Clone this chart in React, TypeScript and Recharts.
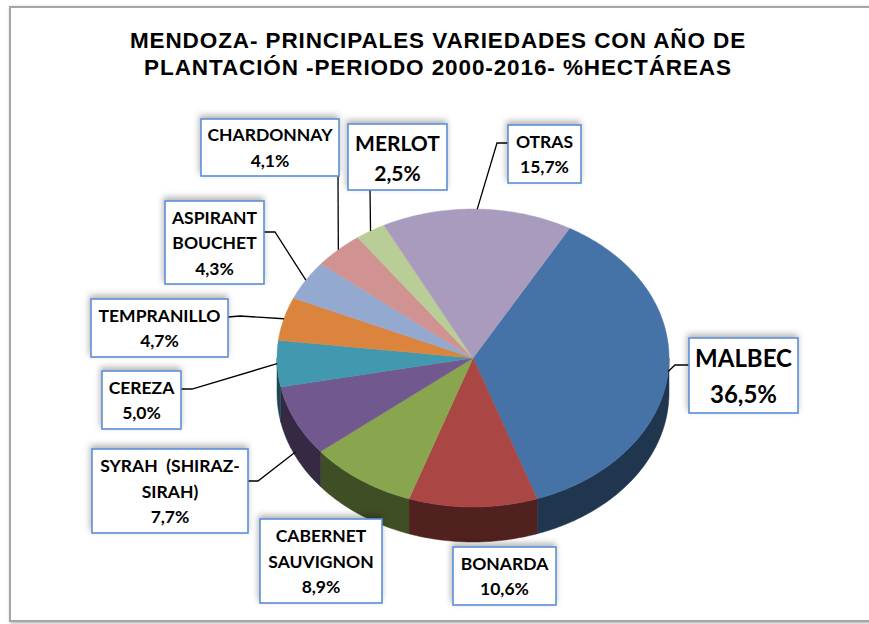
import React from 'react';
import { PieChart, Pie, Cell } from 'recharts';

// ---------- data ----------
const varieties = [
  'MALBEC',
  'BONARDA',
  'CABERNET SAUVIGNON',
  'SYRAH (SHIRAZ-SIRAH)',
  'CEREZA',
  'TEMPRANILLO',
  'ASPIRANT BOUCHET',
  'CHARDONNAY',
  'MERLOT',
  'OTRAS',
];
const shares = [36.5, 10.6, 8.9, 7.7, 5.0, 4.7, 4.3, 4.1, 2.5, 15.7];
const labelTextLines = [
  ['MALBEC'],
  ['BONARDA'],
  ['CABERNET', 'SAUVIGNON'],
  ['SYRAH\u00A0\u00A0(SHIRAZ-', 'SIRAH)'],
  ['CEREZA'],
  ['TEMPRANILLO'],
  ['ASPIRANT', 'BOUCHET'],
  ['CHARDONNAY'],
  ['MERLOT'],
  ['OTRAS'],
];
const titleLines = [
  'MENDOZA- PRINCIPALES VARIEDADES CON AÑO DE',
  'PLANTACIÓN -PERIODO 2000-2016- %HECTÁREAS',
];

// ---------- styles / layout ----------
const colors = ['#4572A7', '#AA4643', '#89A54E', '#71588F', '#4198AF', '#DB843D', '#93A9CF', '#D19392', '#B9CD96', '#A99BBD'];
const K = 0.76; // vertical squash of the tilted pie
const DEPTH = 35;

type Box = { x: number; y: number; w: number; h: number; fs: number; lh: number; path: number[][]; drop: number };
const boxes: Box[] = [
  { x: 689, y: 338, w: 109, h: 75, fs: 24, lh: 36, path: [[675, 365], [689, 365]], drop: 0 },
  { x: 453, y: 547, w: 103, h: 58, fs: 17.5, lh: 25.5, path: [], drop: 0 },
  { x: 260, y: 519, w: 122, h: 84, fs: 17.5, lh: 25.5, path: [], drop: 0 },
  { x: 92, y: 449, w: 156, h: 84, fs: 17.5, lh: 25.5, path: [[258, 481], [248, 481]], drop: 31 },
  { x: 102, y: 371, w: 79, h: 58, fs: 17.5, lh: 25.5, path: [[192, 389], [181, 389]], drop: 0 },
  { x: 91, y: 299, w: 137, h: 58, fs: 17.5, lh: 25.5, path: [[240, 316], [228, 317]], drop: 0 },
  { x: 165, y: 201, w: 99, h: 83, fs: 17.5, lh: 25.5, path: [[275, 232], [264, 232]], drop: 0 },
  { x: 201, y: 119, w: 138, h: 57, fs: 17.5, lh: 25.5, path: [[338, 176]], drop: 0 },
  { x: 348, y: 124, w: 99, h: 66, fs: 21, lh: 30, path: [[370, 190]], drop: 0 },
  { x: 508, y: 125, w: 73, h: 58, fs: 17.5, lh: 25.5, path: [[497, 143], [508, 143]], drop: 0 },
];

const data = varieties.map((name, i) => ({ name, value: shares[i] }));

function darken(hex: string, f: number) {
  const n = parseInt(hex.slice(1), 16);
  const r = Math.round(((n >> 16) & 255) * f);
  const g = Math.round(((n >> 8) & 255) * f);
  const b = Math.round((n & 255) * f);
  return `rgb(${r},${g},${b})`;
}

function pt(cx: number, cy: number, r: number, deg: number, dy = 0): [number, number] {
  const a = (deg * Math.PI) / 180;
  return [cx + r * Math.cos(a), cy - K * r * Math.sin(a) + dy];
}

function arcPoints(cx: number, cy: number, r: number, a1: number, a2: number, dy = 0) {
  const n = Math.max(2, Math.ceil(Math.abs(a2 - a1) / 0.75));
  const pts: [number, number][] = [];
  for (let i = 0; i <= n; i++) pts.push(pt(cx, cy, r, a1 + ((a2 - a1) * i) / n, dy));
  return pts;
}

const SliceShape = (props: any) => {
  const { cx, cy, outerRadius, startAngle, endAngle, fill } = props;
  const lo = Math.min(startAngle, endAngle);
  const hi = Math.max(startAngle, endAngle);
  const sides: React.ReactNode[] = [];
  const lowerHalves = [[-540, -360], [-180, 0], [180, 360]];
  lowerHalves.forEach(([a, b], j) => {
    const s = Math.max(lo, a);
    const e = Math.min(hi, b);
    if (e > s) {
      const top = arcPoints(cx, cy, outerRadius, s, e);
      const bot = arcPoints(cx, cy, outerRadius, e, s, DEPTH);
      const d = 'M' + [...top, ...bot].map((p) => p[0].toFixed(2) + ',' + p[1].toFixed(2)).join('L') + 'Z';
      sides.push(<path key={j} d={d} fill={darken(fill, 0.47)} stroke={darken(fill, 0.47)} strokeWidth={0.5} />);
    }
  });
  const arc = arcPoints(cx, cy, outerRadius, startAngle, endAngle);
  const topD = `M${cx},${cy}L` + arc.map((p) => p[0].toFixed(2) + ',' + p[1].toFixed(2)).join('L') + 'Z';
  return (
    <g>
      {sides}
      <path d={topD} fill={fill} stroke={fill} strokeWidth={0.5} />
    </g>
  );
};

const renderLabel = (props: any) => {
  const { cx, cy, midAngle, outerRadius, index, value } = props;
  const b = boxes[index];
  const lines = [...labelTextLines[index], value.toFixed(1).replace('.', ',') + '%'];
  const [ax, ay] = pt(cx, cy, outerRadius, midAngle, b.drop);
  const centerY = b.y + b.h / 2;
  const first = centerY - ((lines.length - 1) * b.lh) / 2;
  return (
    <g key={`lbl-${index}`}>
      {index === 0 && (
        <defs>
          <filter id="boxShadow" x="-20%" y="-30%" width="140%" height="160%">
            <feDropShadow dx={-1} dy={-3} stdDeviation={3} floodColor="#000" floodOpacity={0.3} />
          </filter>
        </defs>
      )}
      {b.path.length > 0 && (
        <polyline
          points={[[ax, ay], ...b.path].map((p) => p.join(',')).join(' ')}
          fill="none"
          stroke="#000"
          strokeWidth={1.3}
        />
      )}
      <rect x={b.x} y={b.y} width={b.w} height={b.h} fill="#fff" stroke="#5B8ED6" strokeWidth={1.6} filter="url(#boxShadow)" />
      {lines.map((t, i) => (
        <text
          key={i}
          x={b.x + b.w / 2}
          y={first + i * b.lh}
          textAnchor="middle"
          dominantBaseline="central"
          fontFamily="Lato, 'Open Sans', sans-serif"
          fontWeight={700}
          fontSize={b.fs}
          fill="#000"
        >
          {t}
        </text>
      ))}
    </g>
  );
};

export default function App() {
  return (
    <div style={{ position: 'absolute', left: 0, top: 0, width: 869, height: 624, overflow: 'hidden', background: '#fff' }}>
      <div
        style={{
          position: 'absolute',
          left: 9,
          top: 6,
          width: 900,
          height: 612,
          border: '2px solid #a6a6a6',
          boxShadow: '1px 1px 3px rgba(0,0,0,0.35)',
          background: '#fff',
        }}
      />
      <div
        style={{
          position: 'absolute',
          left: 0,
          top: 27,
          width: 876,
          textAlign: 'center',
          fontFamily: "'Liberation Sans', Arial, sans-serif",
          fontWeight: 700,
          fontSize: 22.5,
          letterSpacing: 0.9,
          lineHeight: '27px',
          color: '#000',
        }}
      >
        {titleLines.map((t, i) => (
          <div key={i}>{t}</div>
        ))}
      </div>
      <div style={{ position: 'absolute', left: 0, top: 0 }}>
        <PieChart width={869} height={624}>
          <Pie
            data={data}
            dataKey="value"
            nameKey="name"
            cx={468}
            cy={353}
            outerRadius={196}
            startAngle={60.5}
            endAngle={-299.5}
            isAnimationActive={false}
            shape={SliceShape}
            label={renderLabel}
            labelLine={false}
            stroke="none"
          >
            {data.map((d, i) => (
              <Cell key={d.name} fill={colors[i]} />
            ))}
          </Pie>
        </PieChart>
      </div>
    </div>
  );
}
